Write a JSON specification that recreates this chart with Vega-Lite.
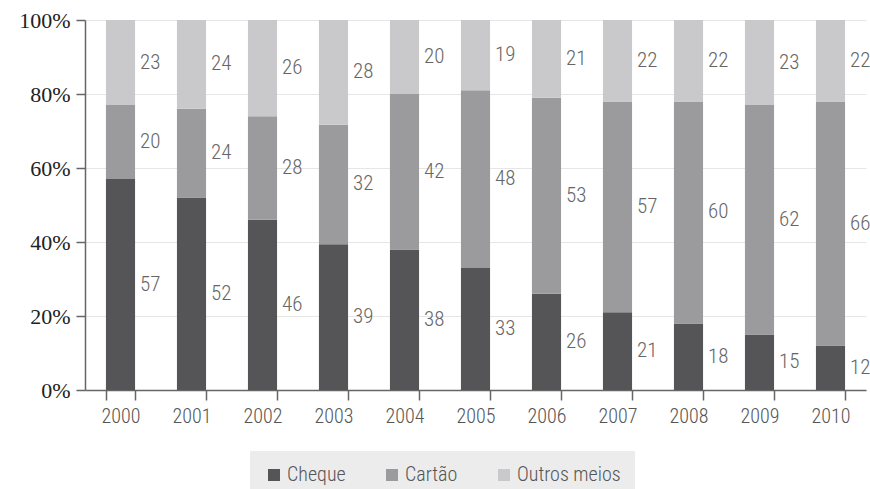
{
  "$schema": "https://vega.github.io/schema/vega-lite/v6.json",
  "width": 781,
  "height": 370,
  "autosize": "none",
  "padding": {"left": 85, "top": 20, "right": 4, "bottom": 99},
  "background": "white",
  "config": {"view": {"stroke": null}},
  "data": {"values": [
    {"ano": "2000", "meio": "Cheque", "ordem": 1, "pct": 57},
    {"ano": "2000", "meio": "Cartão", "ordem": 2, "pct": 20},
    {"ano": "2000", "meio": "Outros meios", "ordem": 3, "pct": 23},
    {"ano": "2001", "meio": "Cheque", "ordem": 1, "pct": 52},
    {"ano": "2001", "meio": "Cartão", "ordem": 2, "pct": 24},
    {"ano": "2001", "meio": "Outros meios", "ordem": 3, "pct": 24},
    {"ano": "2002", "meio": "Cheque", "ordem": 1, "pct": 46},
    {"ano": "2002", "meio": "Cartão", "ordem": 2, "pct": 28},
    {"ano": "2002", "meio": "Outros meios", "ordem": 3, "pct": 26},
    {"ano": "2003", "meio": "Cheque", "ordem": 1, "pct": 39},
    {"ano": "2003", "meio": "Cartão", "ordem": 2, "pct": 32},
    {"ano": "2003", "meio": "Outros meios", "ordem": 3, "pct": 28},
    {"ano": "2004", "meio": "Cheque", "ordem": 1, "pct": 38},
    {"ano": "2004", "meio": "Cartão", "ordem": 2, "pct": 42},
    {"ano": "2004", "meio": "Outros meios", "ordem": 3, "pct": 20},
    {"ano": "2005", "meio": "Cheque", "ordem": 1, "pct": 33},
    {"ano": "2005", "meio": "Cartão", "ordem": 2, "pct": 48},
    {"ano": "2005", "meio": "Outros meios", "ordem": 3, "pct": 19},
    {"ano": "2006", "meio": "Cheque", "ordem": 1, "pct": 26},
    {"ano": "2006", "meio": "Cartão", "ordem": 2, "pct": 53},
    {"ano": "2006", "meio": "Outros meios", "ordem": 3, "pct": 21},
    {"ano": "2007", "meio": "Cheque", "ordem": 1, "pct": 21},
    {"ano": "2007", "meio": "Cartão", "ordem": 2, "pct": 57},
    {"ano": "2007", "meio": "Outros meios", "ordem": 3, "pct": 22},
    {"ano": "2008", "meio": "Cheque", "ordem": 1, "pct": 18},
    {"ano": "2008", "meio": "Cartão", "ordem": 2, "pct": 60},
    {"ano": "2008", "meio": "Outros meios", "ordem": 3, "pct": 22},
    {"ano": "2009", "meio": "Cheque", "ordem": 1, "pct": 15},
    {"ano": "2009", "meio": "Cartão", "ordem": 2, "pct": 62},
    {"ano": "2009", "meio": "Outros meios", "ordem": 3, "pct": 23},
    {"ano": "2010", "meio": "Cheque", "ordem": 1, "pct": 12},
    {"ano": "2010", "meio": "Cartão", "ordem": 2, "pct": 66},
    {"ano": "2010", "meio": "Outros meios", "ordem": 3, "pct": 22}
  ]},
  "transform": [
    {"stack": "pct", "groupby": ["ano"], "sort": [{"field": "ordem", "order": "ascending"}], "offset": "normalize", "as": ["y0", "y1"]}
  ],
  "encoding": {
    "x": {
      "field": "ano",
      "type": "ordinal",
      "scale": {"paddingInner": 0.59, "paddingOuter": 0.295},
      "axis": {
        "title": null,
        "labelAngle": 0,
        "tickBand": "extent",
        "tickSize": 10,
        "tickColor": "#666666",
        "tickWidth": 1.5,
        "domainColor": "#666666",
        "domainWidth": 1.5,
        "labelFont": "Roboto Condensed, Liberation Sans Narrow, Roboto",
        "labelFontWeight": 300,
        "labelFontSize": 20,
        "labelColor": "#555555",
        "labelPadding": 6
      }
    }
  },
  "layer": [
    {
      "mark": {"type": "bar"},
      "encoding": {
        "y": {
          "field": "y0",
          "type": "quantitative",
          "scale": {"domain": [0, 1]},
          "axis": {
            "title": null,
            "values": [0, 0.2, 0.4, 0.6, 0.8, 1],
            "format": ".0%",
            "grid": true,
            "gridColor": "#e6e6e6",
            "gridWidth": 1.2,
            "tickSize": 9,
            "tickColor": "#666666",
            "tickWidth": 1.5,
            "domainColor": "#666666",
            "domainWidth": 1.5,
            "labelFont": "Liberation Serif",
            "labelFontSize": 22,
            "labelColor": "#222222",
            "labelPadding": 6
          }
        },
        "y2": {"field": "y1"},
        "color": {
          "field": "meio",
          "type": "nominal",
          "scale": {"domain": ["Cheque", "Cartão", "Outros meios"], "range": ["#555557", "#9b9b9d", "#c9c9cb"]},
          "legend": {
            "title": null,
            "orient": "none",
            "legendX": 165,
            "legendY": 431,
            "direction": "horizontal",
            "fillColor": "#ececec",
            "padding": 14,
            "symbolType": "square",
            "symbolSize": 144,
            "symbolStrokeWidth": 0,
            "labelOffset": 3,
            "labelFont": "Roboto Condensed, Liberation Sans Narrow, Roboto",
            "labelFontWeight": 300,
            "labelFontSize": 20,
            "labelColor": "#555555",
            "columnPadding": 36
          }
        }
      }
    },
    {
      "transform": [
        {"fold": ["y0", "y1"], "as": ["borda", "valor"]},
        {"aggregate": [{"op": "mean", "field": "valor", "as": "meio_y"}], "groupby": ["ano", "meio", "pct"]}
      ],
      "mark": {
        "type": "text",
        "align": "left",
        "baseline": "middle",
        "dx": 5,
        "font": "Roboto Condensed, Liberation Sans Narrow, Roboto",
        "fontWeight": 300,
        "fontSize": 21,
        "color": "#666666"
      },
      "encoding": {
        "x": {"field": "ano", "type": "ordinal", "bandPosition": 1},
        "y": {"field": "meio_y", "type": "quantitative"},
        "text": {"field": "pct", "type": "quantitative"}
      }
    }
  ]
}
